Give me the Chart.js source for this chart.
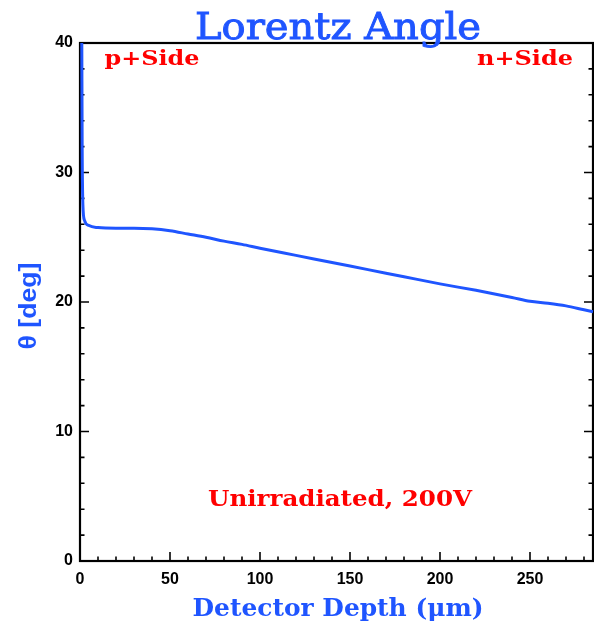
<!DOCTYPE html>
<html>
<head>
<meta charset="utf-8">
<script src="https://cdn.jsdelivr.net/npm/chart.js@4.4.0/dist/chart.umd.min.js"></script>
<style>
  html, body { margin: 0; padding: 0; background: #fff; }
  canvas { display: block; }
</style>
</head>
<body>
<canvas id="chart" width="594" height="625"></canvas>
<script>
const depth = [1, 1.2, 1.6, 2.5, 5, 10, 20, 30, 40, 50, 60, 70, 80, 90, 100, 120, 140, 160, 180, 200, 220, 240, 250, 260, 270, 280, 285];
const theta = [40, 32, 27.5, 26.3, 25.9, 25.75, 25.7, 25.7, 25.65, 25.5, 25.25, 25.0, 24.7, 24.45, 24.15, 23.6, 23.05, 22.5, 21.95, 21.4, 20.9, 20.35, 20.05, 19.9, 19.7, 19.4, 19.25];
const xTicks = [0, 50, 100, 150, 200, 250];
const yTicks = [0, 10, 20, 30, 40];
const xMinorStep = 10;
const yMinorStep = 2;

const BLUE = '#1f55ff';
const RED = '#ff0000';
const serif = '"DejaVu Serif", "Liberation Serif", serif';
const sans = '"Liberation Sans", Arial, sans-serif';

// draw text squeezed/stretched to a target width
function drawFit(ctx, text, cx, y, width, font, color, rot, stroke) {
  ctx.save();
  ctx.font = font;
  ctx.fillStyle = color;
  ctx.strokeStyle = color;
  ctx.textAlign = 'center';
  ctx.textBaseline = 'alphabetic';
  const w = ctx.measureText(text).width;
  ctx.translate(cx, y);
  if (rot) ctx.rotate(rot);
  ctx.scale(width / w, 1);
  ctx.fillText(text, 0, 0);
  if (stroke) {
    ctx.lineWidth = stroke;
    ctx.strokeText(text, 0, 0);
  }
  ctx.restore();
}

const frame = {
  id: 'frame',
  beforeDatasetsDraw(chart) {
    const { ctx, chartArea: a, scales } = chart;
    ctx.save();
    ctx.strokeStyle = '#000';
    ctx.lineWidth = 1.6;
    // minor + major ticks, pointing inward
    const xs = scales.x, ys = scales.y;
    for (let v = xs.min; v <= xs.max; v += xMinorStep) {
      const px = xs.getPixelForValue(v);
      const len = xTicks.includes(v) ? 9 : 4.5;
      ctx.beginPath();
      ctx.moveTo(px, a.bottom);
      ctx.lineTo(px, a.bottom - len);
      ctx.stroke();
    }
    for (let v = ys.min; v <= ys.max; v += yMinorStep) {
      const py = ys.getPixelForValue(v);
      const len = yTicks.includes(v) ? 9 : 4.5;
      ctx.beginPath();
      ctx.moveTo(a.left, py);
      ctx.lineTo(a.left + len, py);
      ctx.moveTo(a.right, py);
      ctx.lineTo(a.right - len, py);
      ctx.stroke();
    }
    ctx.lineWidth = 2.2;
    ctx.strokeRect(a.left, a.top, a.right - a.left, a.bottom - a.top);
    ctx.restore();
  },
  afterDraw(chart) {
    const { ctx } = chart;
    drawFit(ctx, 'Lorentz Angle', 338, 39, 286, '37px ' + serif, BLUE, 0, 0.9);
    drawFit(ctx, 'p+Side', 152, 65, 95, 'bold 20px ' + serif, RED);
    drawFit(ctx, 'n+Side', 525, 65, 96, 'bold 20px ' + serif, RED);
    drawFit(ctx, 'Unirradiated, 200V', 340, 506, 264, 'bold 22px ' + serif, RED);
    drawFit(ctx, 'Detector Depth (\u03bcm)', 338, 616, 291, 'bold 25px ' + serif, BLUE);
    drawFit(ctx, '\u03b8 [deg]', 36, 306, 87, 'bold 24px ' + sans, BLUE, -Math.PI / 2);
  }
};

const tickFont = { family: sans, size: 16, weight: 'bold' };

new Chart(document.getElementById('chart').getContext('2d'), {
  type: 'line',
  data: {
    datasets: [{
      data: depth.map((d, i) => ({ x: d, y: theta[i] })),
      borderColor: BLUE,
      borderWidth: 3,
      pointRadius: 0,
      cubicInterpolationMode: 'monotone',
      fill: false,
      clip: false
    }]
  },
  options: {
    responsive: false,
    animation: false,
    layout: { padding: { top: 43, right: 1, left: 0, bottom: 0 } },
    plugins: { legend: { display: false }, tooltip: { enabled: false } },
    scales: {
      x: {
        type: 'linear',
        min: 0,
        max: 285,
        grid: { display: false, drawTicks: false },
        border: { display: false },
        ticks: { font: tickFont, color: '#000', padding: 9, maxRotation: 0 },
        afterBuildTicks: s => { s.ticks = xTicks.map(v => ({ value: v })); },
        afterFit: s => { s.height = 64; }
      },
      y: {
        type: 'linear',
        min: 0,
        max: 40,
        grid: { display: false, drawTicks: false },
        border: { display: false },
        ticks: { font: tickFont, color: '#000', padding: 7 },
        afterBuildTicks: s => { s.ticks = yTicks.map(v => ({ value: v })); },
        afterFit: s => { s.width = 80; }
      }
    }
  },
  plugins: [frame]
});
</script>
</body>
</html>
